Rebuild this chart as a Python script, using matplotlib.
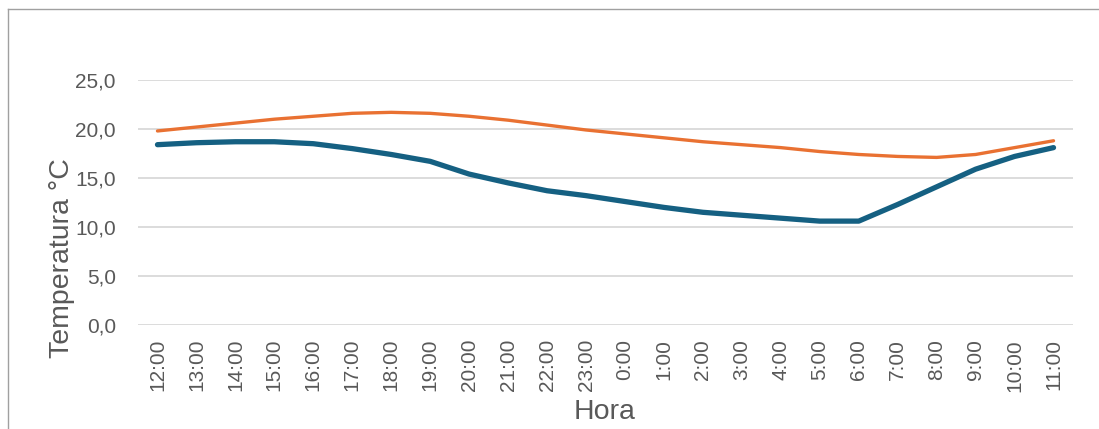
import matplotlib
matplotlib.use("Agg")
import matplotlib.pyplot as plt
from matplotlib.lines import Line2D

plt.rcParams["font.family"] = ["Liberation Sans", "DejaVu Sans"]

horas = ["12:00", "13:00", "14:00", "15:00", "16:00", "17:00", "18:00", "19:00",
         "20:00", "21:00", "22:00", "23:00", "0:00", "1:00", "2:00", "3:00",
         "4:00", "5:00", "6:00", "7:00", "8:00", "9:00", "10:00", "11:00"]
temp_azul = [18.4, 18.6, 18.7, 18.7, 18.5, 18.0, 17.4, 16.7, 15.4, 14.5, 13.7, 13.2,
             12.6, 12.0, 11.5, 11.2, 10.9, 10.6, 10.6, 12.3, 14.1, 15.9, 17.2, 18.1]
temp_naranja = [19.8, 20.2, 20.6, 21.0, 21.3, 21.6, 21.7, 21.6, 21.3, 20.9, 20.4, 19.9,
                19.5, 19.1, 18.7, 18.4, 18.1, 17.7, 17.4, 17.2, 17.1, 17.4, 18.1, 18.8]
yticks = [0, 5, 10, 15, 20, 25]

W, H = 1099, 429
fig = plt.figure(figsize=(W / 100, H / 100), dpi=100)
ax = fig.add_axes([138 / W, 1 - 325 / H, (1073 - 138) / W, (325 - 80) / H])

x = list(range(len(horas)))
ax.plot(x, temp_azul, color="#156082", lw=3.8, solid_capstyle="round", solid_joinstyle="round")
ax.plot(x, temp_naranja, color="#E97132", lw=2.4, solid_capstyle="round", solid_joinstyle="round")

ax.set_xlim(-0.5, len(horas) - 0.5)
ax.set_ylim(0, 25)
ax.set_yticks(yticks)
ax.set_yticklabels(["{:.1f}".format(v).replace(".", ",") for v in yticks])
ax.set_xticks(x)
ax.set_xticklabels(horas, rotation=90)
ax.tick_params(axis="both", length=0, labelsize=15, colors="#595959")
ax.tick_params(axis="y", pad=16)
ax.tick_params(axis="x", pad=10)
ax.grid(axis="y", color="#d9d9d9", lw=1.3)
ax.set_axisbelow(True)
for s in ax.spines.values():
    s.set_visible(False)

fig.text(62 / W, 1 - 258 / H, "Temperatura °C", rotation=90, fontsize=20.5,
         color="#595959", ha="center", va="center")
fig.text(605 / W, 1 - 412 / H, "Hora", fontsize=20.5, color="#595959",
         ha="center", va="center")

# marco del grafico
fig.add_artist(Line2D([8 / W, 1], [1 - 9 / H, 1 - 9 / H], color="#a0a0a0", lw=1))
fig.add_artist(Line2D([8 / W, 8 / W], [0, 1 - 9 / H], color="#a0a0a0", lw=1))

fig.savefig("out.png", dpi=100)
